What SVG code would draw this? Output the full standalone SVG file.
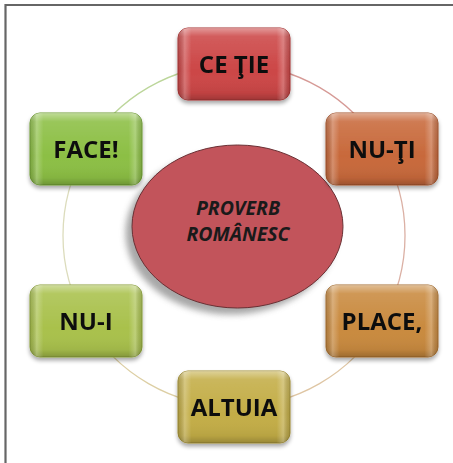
<svg xmlns="http://www.w3.org/2000/svg" width="453" height="463" viewBox="0 0 453 463">
<defs>
<style>
.lbl{font-family:"Open Sans","Liberation Sans",sans-serif;font-weight:bold;font-size:24px;fill:#111;text-anchor:middle}
.ctr{font-family:"Open Sans","Liberation Sans",sans-serif;font-weight:bold;font-style:italic;font-size:19.5px;fill:#1a1a1a;text-anchor:middle}
.arc{fill:none;stroke-width:1.3}
.gloss{fill:url(#gloss)}
.edge{fill:url(#edge)}
</style>
<linearGradient id="gloss" x1="0" y1="0" x2="0" y2="1">
<stop offset="0" stop-color="#fff" stop-opacity="0.45"/>
<stop offset="0.12" stop-color="#fff" stop-opacity="0.12"/>
<stop offset="0.6" stop-color="#fff" stop-opacity="0"/>
<stop offset="0.9" stop-color="#000" stop-opacity="0.06"/>
<stop offset="1" stop-color="#000" stop-opacity="0.22"/>
</linearGradient>
<linearGradient id="edge" x1="0" y1="0" x2="1" y2="0">
<stop offset="0" stop-color="#000" stop-opacity="0.12"/>
<stop offset="0.06" stop-color="#fff" stop-opacity="0.25"/>
<stop offset="0.12" stop-color="#fff" stop-opacity="0"/>
<stop offset="0.88" stop-color="#fff" stop-opacity="0"/>
<stop offset="0.94" stop-color="#fff" stop-opacity="0.25"/>
<stop offset="1" stop-color="#000" stop-opacity="0.12"/>
</linearGradient>
<filter id="sh" x="-20%" y="-20%" width="140%" height="150%">
<feGaussianBlur in="SourceAlpha" stdDeviation="2"/>
<feOffset dx="0" dy="3" result="b"/>
<feComponentTransfer><feFuncA type="linear" slope="0.35"/></feComponentTransfer>
<feMerge><feMergeNode/><feMergeNode in="SourceGraphic"/></feMerge>
</filter>
<filter id="blur" x="-20%" y="-20%" width="140%" height="140%">
<feGaussianBlur stdDeviation="3"/>
</filter>
</defs>
<rect x="0" y="0" width="453" height="463" fill="#fff"/>
<line x1="5" y1="5" x2="453" y2="5" stroke="#666" stroke-width="2.2"/>
<line x1="5.5" y1="4" x2="5.5" y2="463" stroke="#666" stroke-width="2.2"/>

<g id="connectors">
<path class="arc" stroke="#bcd69a" d="M 85.9 150 A 171 171 0 0 1 234 64.5"/>
<path class="arc" stroke="#d69a96" d="M 234 64.5 A 171 171 0 0 1 382.1 150"/>
<path class="arc" stroke="#dbb0a4" d="M 382.1 150 A 171 171 0 0 1 382.1 321"/>
<path class="arc" stroke="#dfc6a4" d="M 382.1 321 A 171 171 0 0 1 234 406.5"/>
<path class="arc" stroke="#ddcfa4" d="M 234 406.5 A 171 171 0 0 1 85.9 321"/>
<path class="arc" stroke="#dcdcbc" d="M 85.9 321 A 171 171 0 0 1 85.9 150"/>
</g>

<g id="center">
<ellipse cx="231" cy="233" rx="105.5" ry="81.5" fill="#8a8a8a" opacity="0.75" filter="url(#blur)"/>
<ellipse cx="237.5" cy="226.5" rx="105.5" ry="81.5" fill="#c2545b" stroke="#6a3034" stroke-width="1"/>
<text class="ctr" x="238" y="215">PROVERB</text>
<text class="ctr" x="238" y="241">ROMÂNESC</text>
</g>

<g id="n-ce-tie" filter="url(#sh)">
<rect x="178" y="28" width="112" height="72" rx="10" fill="#cc4646" stroke="#a83434" stroke-width="1"/>
<rect x="178" y="28" width="112" height="72" rx="10" class="gloss"/>
<rect x="178" y="28" width="112" height="72" rx="10" class="edge"/>
<text class="lbl" x="234" y="73">CE ŢIE</text>
</g>
<g id="n-nu-ti" filter="url(#sh)">
<rect x="326" y="113" width="112" height="72" rx="10" fill="#c8693b" stroke="#a4542c" stroke-width="1"/>
<rect x="326" y="113" width="112" height="72" rx="10" class="gloss"/>
<rect x="326" y="113" width="112" height="72" rx="10" class="edge"/>
<text class="lbl" x="382" y="158">NU-ŢI</text>
</g>
<g id="n-place" filter="url(#sh)">
<rect x="326" y="285" width="112" height="72" rx="10" fill="#c98a3f" stroke="#a66f30" stroke-width="1"/>
<rect x="326" y="285" width="112" height="72" rx="10" class="gloss"/>
<rect x="326" y="285" width="112" height="72" rx="10" class="edge"/>
<text class="lbl" x="382" y="330">PLACE,</text>
</g>
<g id="n-altuia" filter="url(#sh)">
<rect x="178" y="371" width="112" height="72" rx="10" fill="#c3ad46" stroke="#9f8c34" stroke-width="1"/>
<rect x="178" y="371" width="112" height="72" rx="10" class="gloss"/>
<rect x="178" y="371" width="112" height="72" rx="10" class="edge"/>
<text class="lbl" x="234" y="416">ALTUIA</text>
</g>
<g id="n-nu-i" filter="url(#sh)">
<rect x="30" y="285" width="112" height="72" rx="10" fill="#a9c14c" stroke="#8aa03a" stroke-width="1"/>
<rect x="30" y="285" width="112" height="72" rx="10" class="gloss"/>
<rect x="30" y="285" width="112" height="72" rx="10" class="edge"/>
<text class="lbl" x="86" y="330">NU-I</text>
</g>
<g id="n-face" filter="url(#sh)">
<rect x="30" y="113" width="112" height="72" rx="10" fill="#8cbf44" stroke="#6f9d33" stroke-width="1"/>
<rect x="30" y="113" width="112" height="72" rx="10" class="gloss"/>
<rect x="30" y="113" width="112" height="72" rx="10" class="edge"/>
<text class="lbl" x="86" y="158">FACE!</text>
</g>
</svg>
